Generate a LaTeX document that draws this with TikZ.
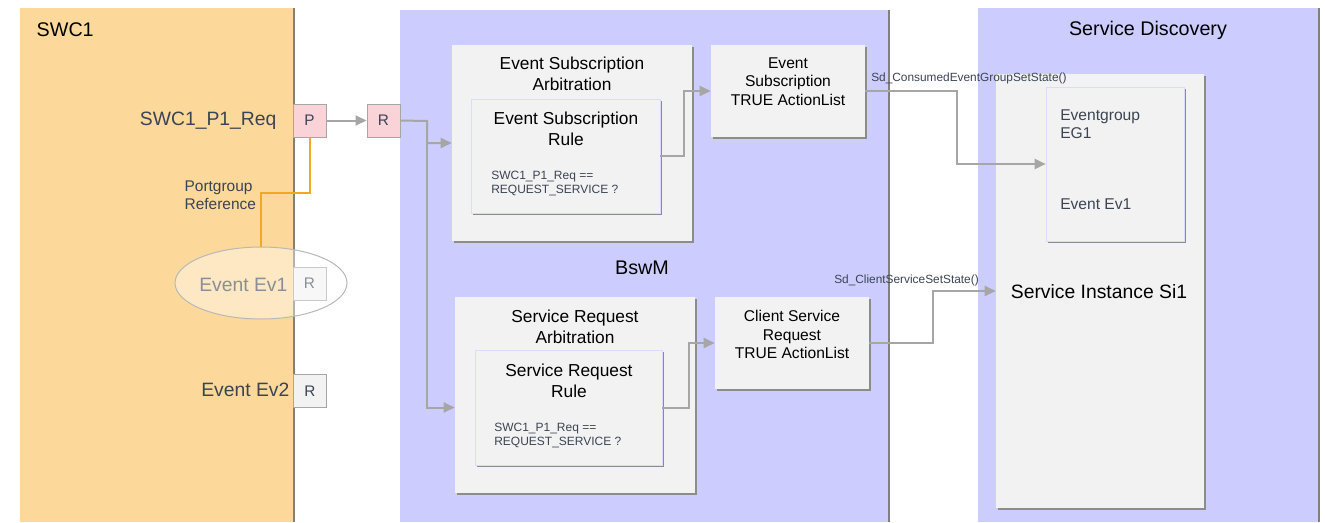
\documentclass[tikz,border=0pt]{standalone}
\usepackage{fontspec}
\setmainfont{Liberation Sans}
\usetikzlibrary{positioning,fit,shadows,shapes.geometric,arrows.meta}

\definecolor{swcorange}{RGB}{252,217,155}
\definecolor{bswlilac}{RGB}{204,204,255}
\definecolor{boxgray}{RGB}{242,242,242}
\definecolor{portpink}{RGB}{249,211,216}
\definecolor{linegray}{RGB}{166,166,166}
\definecolor{textslate}{RGB}{59,68,83}
\definecolor{refline}{RGB}{245,166,35}

\begin{document}
\begin{tikzpicture}[x=0.75pt,y=-0.75pt,
    container/.style={inner sep=0pt, drop shadow={shadow xshift=1.5pt, shadow yshift=0pt, fill=black!50, opacity=1}},
    box/.style={fill=boxgray, inner sep=0pt, drop shadow={shadow xshift=1.5pt, shadow yshift=-1.5pt, fill=black!45, opacity=1}},
    rulebox/.style={box, draw=bswlilac!70, line width=0.5pt},
    port/.style={draw=linegray, line width=0.75pt, fill=portpink, minimum size=24.75pt, inner sep=0pt,
                 text=textslate, font=\fontsize{11.5}{13}\selectfont},
    sigarrow/.style={draw=linegray, line width=1.5pt, -{Triangle[length=8.25pt,width=7.5pt]}},
    sidelabel/.style={text=textslate, font=\fontsize{14.5}{17}\selectfont, inner sep=1pt},
    headline/.style={font=\fontsize{14.8}{17}\selectfont},
    boxtitle/.style={align=center, font=\fontsize{13}{16}\selectfont},
    actiontext/.style={align=center, font=\fontsize{11.7}{13.9}\selectfont},
    condtext/.style={align=left, text=textslate, font=\fontsize{9}{10.5}\selectfont, inner sep=0pt},
    fntext/.style={text=textslate, font=\fontsize{8.9}{10}\selectfont, inner sep=0pt}]
    \useasboundingbox (0,0) rectangle (1325,522);

    % SWC1
    \node[container, fill=swcorange, fit={(20,8) (293,522)}] (swc) {};
    \node[headline, anchor=west] (swctitle) at (32,30) {SWC1};
    \node[sidelabel, anchor=east] (reqlabel) at (278,121) {SWC1\_P1\_Req};
    \node[port] (p) at (309.5,120.5) {P};
    \node[sidelabel, anchor=east] (ev1label) at (289,285) {Event Ev1};
    \node[port, fill=boxgray] (ev1port) at (309.5,283.5) {R};
    \node[ellipse, draw=linegray!80, line width=0.75pt, fill=white, fill opacity=0.4, draw opacity=1,
          minimum width=129pt, minimum height=54pt] (evgroup) at (261,283) {};
    \node[sidelabel, anchor=east] (ev2label) at (291,390) {Event Ev2};
    \node[port, fill=boxgray] (ev2port) at (310,391) {R};
    \node[align=left, text=textslate, font=\fontsize{11.6}{13.5}\selectfont, inner sep=1pt, anchor=west]
        (pgref) at (183,195) {Portgroup\\Reference};
    \draw[refline, line width=1.5pt] (p.south) -- ++(0,55) -| (evgroup.north);

    % BswM
    \node[container, fill=bswlilac, fit={(400,10) (888,522)}] (bswm) {};
    \node[headline] (bswmtitle) at (642,268) {BswM};
    \node[port] (r) at (383.5,120.5) {R};

    \node[box, fit={(452,45) (692,241)}] (esarb) {};
    \node[boxtitle] (esarbtitle) at (572,74) {Event Subscription\\Arbitration};
    \node[rulebox, fit={(471,99) (660,213)}] (esrule) {};
    \node[boxtitle] (esruletitle) at (566,128.5) {Event Subscription\\Rule};
    \node[condtext, anchor=west] (escond) at (491,183) {SWC1\_P1\_Req ==\\REQUEST\_SERVICE ?};
    \node[box, fit={(711,45) (865,137)}] (esact) {};
    \node[actiontext] (esacttext) at (788,81.5) {Event\\Subscription\\TRUE ActionList};

    \node[box, fit={(455,297) (695,493)}] (srarb) {};
    \node[boxtitle] (srarbtitle) at (575,327) {Service Request\\Arbitration};
    \node[rulebox, fit={(475,350) (662,465)}] (srrule) {};
    \node[boxtitle] (srruletitle) at (569,380.5) {Service Request\\Rule};
    \node[condtext, anchor=west] (srcond) at (494,435) {SWC1\_P1\_Req ==\\REQUEST\_SERVICE ?};
    \node[box, fit={(715,297) (869,389)}] (sract) {};
    \node[actiontext] (sracttext) at (792,334.5) {Client Service\\Request\\TRUE ActionList};

    % Service Discovery
    \node[container, fill=bswlilac, fit={(978,8) (1318,522)}] (sd) {};
    \node[headline] (sdtitle) at (1148,30) {Service Discovery};
    \node[box, fit={(996,74) (1204,508)}] (si) {};
    \node[headline, font=\fontsize{14.5}{17}\selectfont] (sitext) at (1099,292) {Service Instance Si1};
    \node[rulebox, fit={(1046,87) (1184,241)}] (eg) {};
    \node[align=left, text=textslate, font=\fontsize{11.7}{13.5}\selectfont, inner sep=0pt, anchor=west]
        (egtext) at (1060,124) {Eventgroup\\EG1};
    \node[text=textslate, font=\fontsize{11.7}{13.5}\selectfont, inner sep=0pt, anchor=west]
        (egevent) at (1060,204) {Event Ev1};

    % Signale
    \coordinate (split) at (427,121);
    \draw[sigarrow] (p.east) -- (r.west);
    \draw[sigarrow] (r.east) -- (split) |- (esarb.west);
    \draw[sigarrow] (split) |- (srarb.west |- srrule.east);
    \draw[sigarrow] (esrule.east) -- ++(24,0) |- (esact.west);
    \draw[sigarrow] (srrule.east) -- ++(27,0) |- (sract.west);
    \draw[sigarrow] (esact.east) -- ++(92,0) |- (eg.west);
    \draw[sigarrow] (sract.east) -- ++(64,0) |- (si.west);
    \node[fntext, anchor=west] (sdconsumed) at (871,78) {Sd\_ConsumedEventGroupSetState()};
    \node[fntext, anchor=west] (sdclient) at (834,280) {Sd\_ClientServiceSetState()};
\end{tikzpicture}
\end{document}
